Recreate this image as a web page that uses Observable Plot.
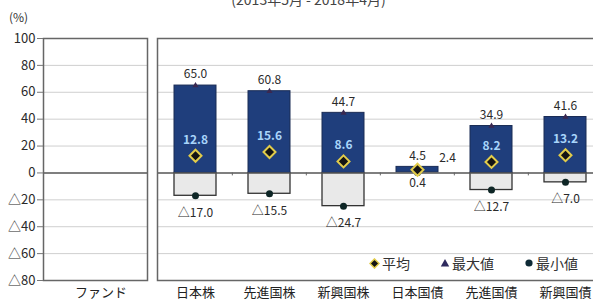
<!DOCTYPE html>
<html>
<head>
<meta charset="utf-8">
<script src="https://cdn.jsdelivr.net/npm/d3@7"></script>
<script src="https://cdn.jsdelivr.net/npm/@observablehq/plot@0.6"></script>
<style>
  html, body { margin: 0; padding: 0; background: #fff; overflow: hidden; }
  #wrap { position: relative; width: 593px; height: 302px; overflow: hidden; font-family: "Noto Sans CJK JP", "Noto Sans", sans-serif; color: #333; }
  #title { position: absolute; top: -11px; left: 12px; width: 593px; text-align: center; font-size: 14px; color: #444; }
  #unit { position: absolute; left: 9px; top: 8px; font-size: 12px; color: #333; }
  #left { position: absolute; left: 0; top: 0; }
  #right { position: absolute; left: 150px; top: 0; width: 470px; }
  #legend { position: absolute; left: 369px; top: 253px; font-size: 14px; color: #333; display: flex; gap: 30px; align-items: center; }
  #legend span { display: inline-flex; align-items: center; gap: 2px; }
</style>
</head>
<body>
<div id="wrap">
  <div id="left"></div>
  <div id="right"></div>
  <div id="title"></div>
  <div id="unit"></div>
  <div id="legend"></div>
</div>
<script>
// ---- data ----
const title = "(2013年5月 - 2018年4月)";
const unitLabel = "(%)";
const leftCats = ["ファンド"];
const cats = ["日本株", "先進国株", "新興国株", "日本国債", "先進国債", "新興国債"];
const maxVals = [65.0, 60.8, 44.7, 4.5, 34.9, 41.6];
const avgVals = [12.8, 15.6, 8.6, 2.4, 8.2, 13.2];
const minVals = [-17.0, -15.5, -24.7, 0.4, -12.7, -7.0];
const yTicks = [100, 80, 60, 40, 20, 0, -20, -40, -60, -80];
const legendLabels = ["平均", "最大値", "最小値"];

// ---- styles ----
const navy = "#1f3e7c";
const font = "'Noto Sans CJK JP', 'Noto Sans', sans-serif";
const rows = cats.map((c, i) => ({cat: c, max: maxVals[i], avg: avgVals[i], min: minVals[i]}));
const fmtTick = v => v < 0 ? "△" + (-v) : String(v);
const fmtVal = v => v < 0 ? "△" + (-v).toFixed(1) : v.toFixed(1);
const gridVals = yTicks.filter(v => v !== 0 && v !== yTicks[0] && v !== yTicks[yTicks.length - 1]);

const H = 302, MT = 38, MB = 22;
const yScale = {domain: [yTicks[yTicks.length - 1], yTicks[0]]};

document.getElementById("title").textContent = title;
document.getElementById("unit").textContent = unitLabel;

// ---- left panel (fund) ----
const left = Plot.plot({
  width: 150, height: H,
  marginLeft: 43, marginRight: 3, marginTop: MT, marginBottom: MB,
  style: {fontFamily: font, fontSize: "13px", color: "#333", background: "transparent", maxWidth: "none"},
  x: {type: "band", domain: leftCats, label: null},
  y: {...yScale, label: null},
  marks: [
    Plot.ruleY(gridVals, {stroke: "#cfcfcf", strokeWidth: 1}),
    Plot.ruleY([0], {stroke: "#555", strokeWidth: 1.5}),
    Plot.frame({stroke: "#666", strokeWidth: 1.5}),
    Plot.axisY(yTicks, {tickFormat: fmtTick, tickSize: 6, tickPadding: 2, fontSize: 13, stroke: "#777", fill: "#2a2a2a", label: null}),
    Plot.axisX({tickSize: 0, tickPadding: 7, fontSize: 13, dx: 5, fill: "#222", label: null})
  ]
});
document.getElementById("left").appendChild(left);

// ---- right panel (asset classes) ----
const RW = 464, RML = 7, RMR = 11;
const step = (RW - RML - RMR) / cats.length;
const right = Plot.plot({
  width: RW, height: H,
  marginLeft: RML, marginRight: RMR, marginTop: MT, marginBottom: MB,
  style: {fontFamily: font, fontSize: "12px", color: "#333", background: "transparent", maxWidth: "none"},
  x: {type: "band", domain: cats, paddingInner: 0.435, paddingOuter: 0.2175, label: null},
  y: {...yScale, axis: null},
  marks: [
    Plot.ruleY(gridVals, {stroke: "#cfcfcf", strokeWidth: 1}),
    // negative part of range
    Plot.barY(rows.filter(d => d.min < 0), {x: "cat", y1: "min", y2: 0, fill: "#e9e9e9", stroke: "#333", strokeWidth: 1.3}),
    // positive part of range
    Plot.barY(rows, {x: "cat", y1: d => Math.max(d.min, 0), y2: "max", fill: navy, stroke: "#1a2c55", strokeWidth: 1}),
    Plot.ruleY([0], {stroke: "#555", strokeWidth: 1.5}),
    // small ticks between categories on zero line
    Plot.ruleX(cats.slice(1), {x: d => d, y1: 0, y2: -2.2, dx: -step / 2, stroke: "#666", strokeWidth: 1}),
    // max markers
    Plot.dot(rows, {x: "cat", y: "max", symbol: "triangle", r: 2.3, fill: "#3a2850", stroke: "none"}),
    // min markers
    Plot.dot(rows, {x: "cat", y: "min", r: 3.5, fill: "#0e2626", stroke: "none"}),
    // average markers
    Plot.dot(rows, {x: "cat", y: "avg", symbol: "diamond2", r: 5.4, fill: "#141414", stroke: "#e2cc4a", strokeWidth: 2}),
    // max labels
    Plot.text(rows, {x: "cat", y: "max", text: d => fmtVal(d.max), dy: -11, fill: "#2a2a2a", fontSize: 12}),
    // average labels
    Plot.text(rows.filter(d => d.max - Math.max(d.min, 0) > 10), {x: "cat", y: "avg", text: d => fmtVal(d.avg), dy: -16, fill: "#a8d4fa", fontSize: 12, fontWeight: "bold"}),
    Plot.text(rows.filter(d => d.max - Math.max(d.min, 0) <= 10), {x: "cat", y: "avg", text: d => fmtVal(d.avg), dx: 30, dy: -12, fill: "#2a2a2a", fontSize: 12}),
    // min labels
    Plot.text(rows.filter(d => d.min < 0), {x: "cat", y: "min", text: d => fmtVal(d.min), dy: 17, fill: "#2a2a2a", fontSize: 12}),
    Plot.text(rows.filter(d => d.min >= 0), {x: "cat", y: "min", text: d => fmtVal(d.min), dy: 11, fill: "#2a2a2a", fontSize: 12}),
    Plot.frame({stroke: "#666", strokeWidth: 1.5}),
    Plot.axisX({tickSize: 0, tickPadding: 7, fontSize: 13, fill: "#222", label: null})
  ]
});
document.getElementById("right").appendChild(right);

// ---- legend ----
const symbols = [
  `<svg width="11" height="11" viewBox="-6 -6 12 12"><path d="M0,-5L5,0L0,5L-5,0Z" fill="#141414" stroke="#e2cc4a" stroke-width="1.6"/></svg>`,
  `<svg width="10" height="10" viewBox="-5 -5 10 10"><path d="M0,-4L4.2,3.5L-4.2,3.5Z" fill="#2e2a5e"/></svg>`,
  `<svg width="10" height="10" viewBox="-5 -5 10 10"><circle r="3.6" fill="#0e2a36"/></svg>`
];
document.getElementById("legend").innerHTML = legendLabels.map((l, i) => `<span>${symbols[i]}${l}</span>`).join("");
</script>
</body>
</html>
